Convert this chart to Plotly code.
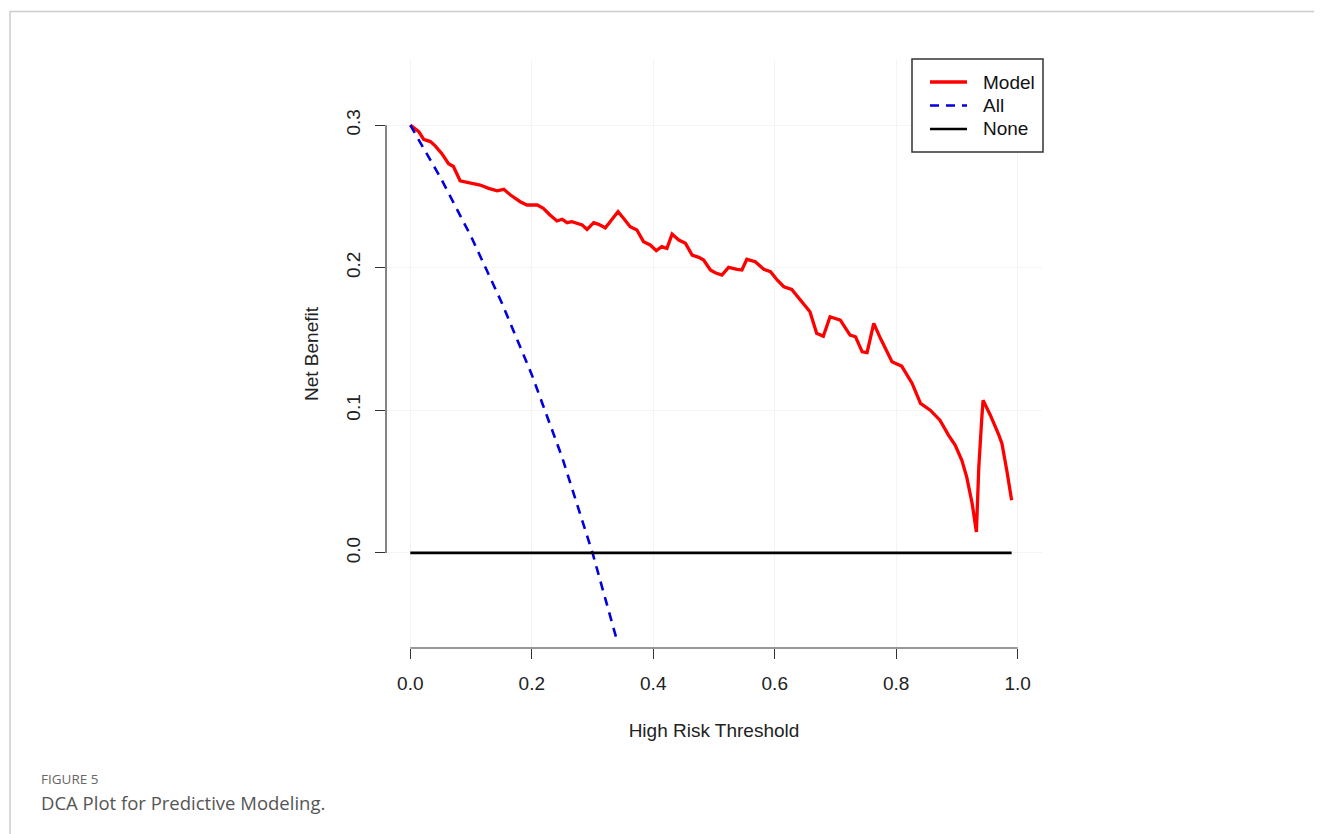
import plotly.graph_objects as go

# ---------------- data ----------------
model_x = [0.000, 0.014, 0.022, 0.033, 0.041, 0.052, 0.063, 0.071, 0.082, 0.099,
           0.115, 0.129, 0.143, 0.154, 0.165, 0.181, 0.192, 0.209, 0.219, 0.230,
           0.2415, 0.250, 0.258, 0.266, 0.272, 0.283, 0.291, 0.302, 0.310, 0.321,
           0.329, 0.342, 0.351, 0.362, 0.373, 0.384, 0.395, 0.405, 0.414, 0.4225,
           0.431, 0.442, 0.453, 0.464, 0.475, 0.483, 0.494, 0.502, 0.513, 0.524,
           0.538, 0.546, 0.554, 0.568, 0.582, 0.593, 0.604, 0.615, 0.628, 0.639,
           0.650, 0.658, 0.669, 0.680, 0.691, 0.708, 0.724, 0.733, 0.744, 0.752,
           0.763, 0.774, 0.793, 0.809, 0.826, 0.840, 0.856, 0.872, 0.886, 0.897,
           0.908, 0.916, 0.925, 0.932, 0.936, 0.938, 0.941, 0.943, 0.955, 0.969,
           0.974, 0.982, 0.990]
model_y = [0.300, 0.2955, 0.290, 0.2885, 0.2855, 0.280, 0.273, 0.271, 0.261, 0.2597,
           0.258, 0.2557, 0.254, 0.255, 0.251, 0.2463, 0.244, 0.244, 0.2417, 0.237,
           0.2328, 0.234, 0.2316, 0.2323, 0.2316, 0.230, 0.2269, 0.2316, 0.2304, 0.228,
           0.2323, 0.2393, 0.2347, 0.2288, 0.2265, 0.2183, 0.216, 0.212, 0.2148, 0.2136,
           0.2236, 0.2194, 0.2171, 0.2089, 0.2073, 0.2054, 0.1984, 0.1965, 0.1949, 0.2003,
           0.1989, 0.1984, 0.2059, 0.2042, 0.1989, 0.1972, 0.1914, 0.1867, 0.1848, 0.1792,
           0.1738, 0.1691, 0.154, 0.152, 0.1656, 0.1633, 0.1528, 0.1516, 0.141, 0.1404,
           0.161, 0.1505, 0.134, 0.131, 0.119, 0.1048, 0.1001, 0.0931, 0.0826, 0.0756,
           0.065, 0.0533, 0.0347, 0.0147, 0.0604, 0.0779, 0.0954, 0.107, 0.0966, 0.0826,
           0.0768, 0.058, 0.037]

all_x = [0.00, 0.05, 0.10, 0.15, 0.20, 0.25, 0.30, 0.34]
all_y = [0.300, 0.263, 0.222, 0.176, 0.125, 0.067, 0.000, -0.061]

none_x = [0.00, 0.99]
none_y = [0.0, 0.0]

x_ticks = [0.0, 0.2, 0.4, 0.6, 0.8, 1.0]
x_tick_labels = ["0.0", "0.2", "0.4", "0.6", "0.8", "1.0"]
y_ticks = [0.0, 0.1, 0.2, 0.3]
y_tick_labels = ["0.0", "0.1", "0.2", "0.3"]

series_names = ["Model", "All", "None"]
series_colors = ["#ff0000", "#0000dd", "#000000"]
series_dashes = ["solid", "9px,7px", "solid"]
series_widths = [3.3, 2.6, 2.6]
x_title = "High Risk Threshold"
y_title = "Net Benefit"
caption_label = "FIGURE 5"
caption_text = "DCA Plot for Predictive Modeling."

# ---------------- layout constants ----------------
OFF = 8                      # default body margin of the html page
W, H = 1322 - OFF, 834 - OFF
L, R, T, B = 378, 280, 52, 186
PW, PH = W - L - R, H - T - B
FONT = "'Liberation Sans', Arial, Helvetica, sans-serif"


def px_x(px):                # absolute page px -> paper x
    return (px - OFF - L) / PW


def px_y(py):                # absolute page px -> paper y
    return (H - B - (py - OFF)) / PH


fig = go.Figure()
for name, xs, ys, col, dash, wid in zip(series_names, [model_x, all_x, none_x],
                                        [model_y, all_y, none_y], series_colors,
                                        series_dashes, series_widths):
    fig.add_trace(go.Scatter(x=xs, y=ys, mode="lines", name=name, showlegend=False,
                             line=dict(color=col, width=wid, dash=dash)))

axis_font = dict(family=FONT, size=19, color="#222")

fig.update_layout(
    width=W, height=H,
    margin=dict(l=L, r=R, t=T, b=B, pad=0),
    paper_bgcolor="white", plot_bgcolor="white",
    font=dict(family=FONT, size=19, color="#222"),
    showlegend=False,
    xaxis=dict(range=[-0.04, 1.04], tickvals=x_ticks, ticktext=x_tick_labels,
               showgrid=True, gridcolor="#f4f4f4", gridwidth=1, zeroline=False,
               showline=False, ticks="outside", ticklen=10, tickcolor="#333",
               tickwidth=1.2, tickfont=axis_font, ticklabelstandoff=8,
               title=dict(text=x_title, font=axis_font, standoff=30)),
    yaxis=dict(range=[-0.0667, 0.3457], tickvals=y_ticks, ticktext=y_tick_labels,
               showgrid=True, gridcolor="#f4f4f4", gridwidth=1, zeroline=False,
               showline=False, ticks="outside", ticklen=10, tickcolor="#333",
               tickwidth=1.2, tickangle=-90, tickfont=axis_font, ticklabelstandoff=7,
               title=dict(text=y_title, font=axis_font, standoff=19)),
)

# R-style axis lines (from first to last tick)
fig.add_shape(type="line", xref="x", yref="paper", x0=x_ticks[0], x1=x_ticks[-1], y0=0, y1=0,
              line=dict(color="#333", width=1.2))
fig.add_shape(type="line", xref="paper", yref="y", x0=0, x1=0, y0=y_ticks[0], y1=y_ticks[-1],
              line=dict(color="#333", width=1.2))

# legend (R style, top-right)
fig.add_shape(type="rect", xref="paper", yref="paper",
              x0=px_x(912), x1=px_x(1043), y0=px_y(152), y1=px_y(59),
              line=dict(color="#333", width=1.5), fillcolor="white", layer="above")
for i, (name, col, dash, wid) in enumerate(zip(series_names, series_colors,
                                                series_dashes, series_widths)):
    yy = px_y(82 + i * 23.5)
    fig.add_shape(type="line", xref="paper", yref="paper", x0=px_x(930), x1=px_x(967),
                  y0=yy, y1=yy, line=dict(color=col, width=wid, dash=dash), layer="above")
    fig.add_annotation(xref="paper", yref="paper", x=px_x(981), y=yy, xanchor="left",
                       yanchor="middle", showarrow=False, text=name,
                       font=dict(family=FONT, size=19, color="#111"))

# outer frame of the figure panel
fl, ft = px_x(10), px_y(11.5)
fr, fb = px_x(1330), px_y(840)
fig.add_shape(type="path", xref="paper", yref="paper",
              path=f"M {fl} {fb} L {fl} {ft} L {fr} {ft}",
              line=dict(color="#cccccc", width=1.5))

# caption
fig.add_annotation(xref="paper", yref="paper", x=px_x(39), y=px_y(779),
                   xanchor="left", yanchor="middle", showarrow=False, text=caption_label,
                   font=dict(family="'Open Sans', sans-serif", size=13.5, color="#666"))
fig.add_annotation(xref="paper", yref="paper", x=px_x(39), y=px_y(802),
                   xanchor="left", yanchor="middle", showarrow=False, text=caption_text,
                   font=dict(family="'Open Sans', sans-serif", size=18.5, color="#555"))

fig.write_html("out.html")
